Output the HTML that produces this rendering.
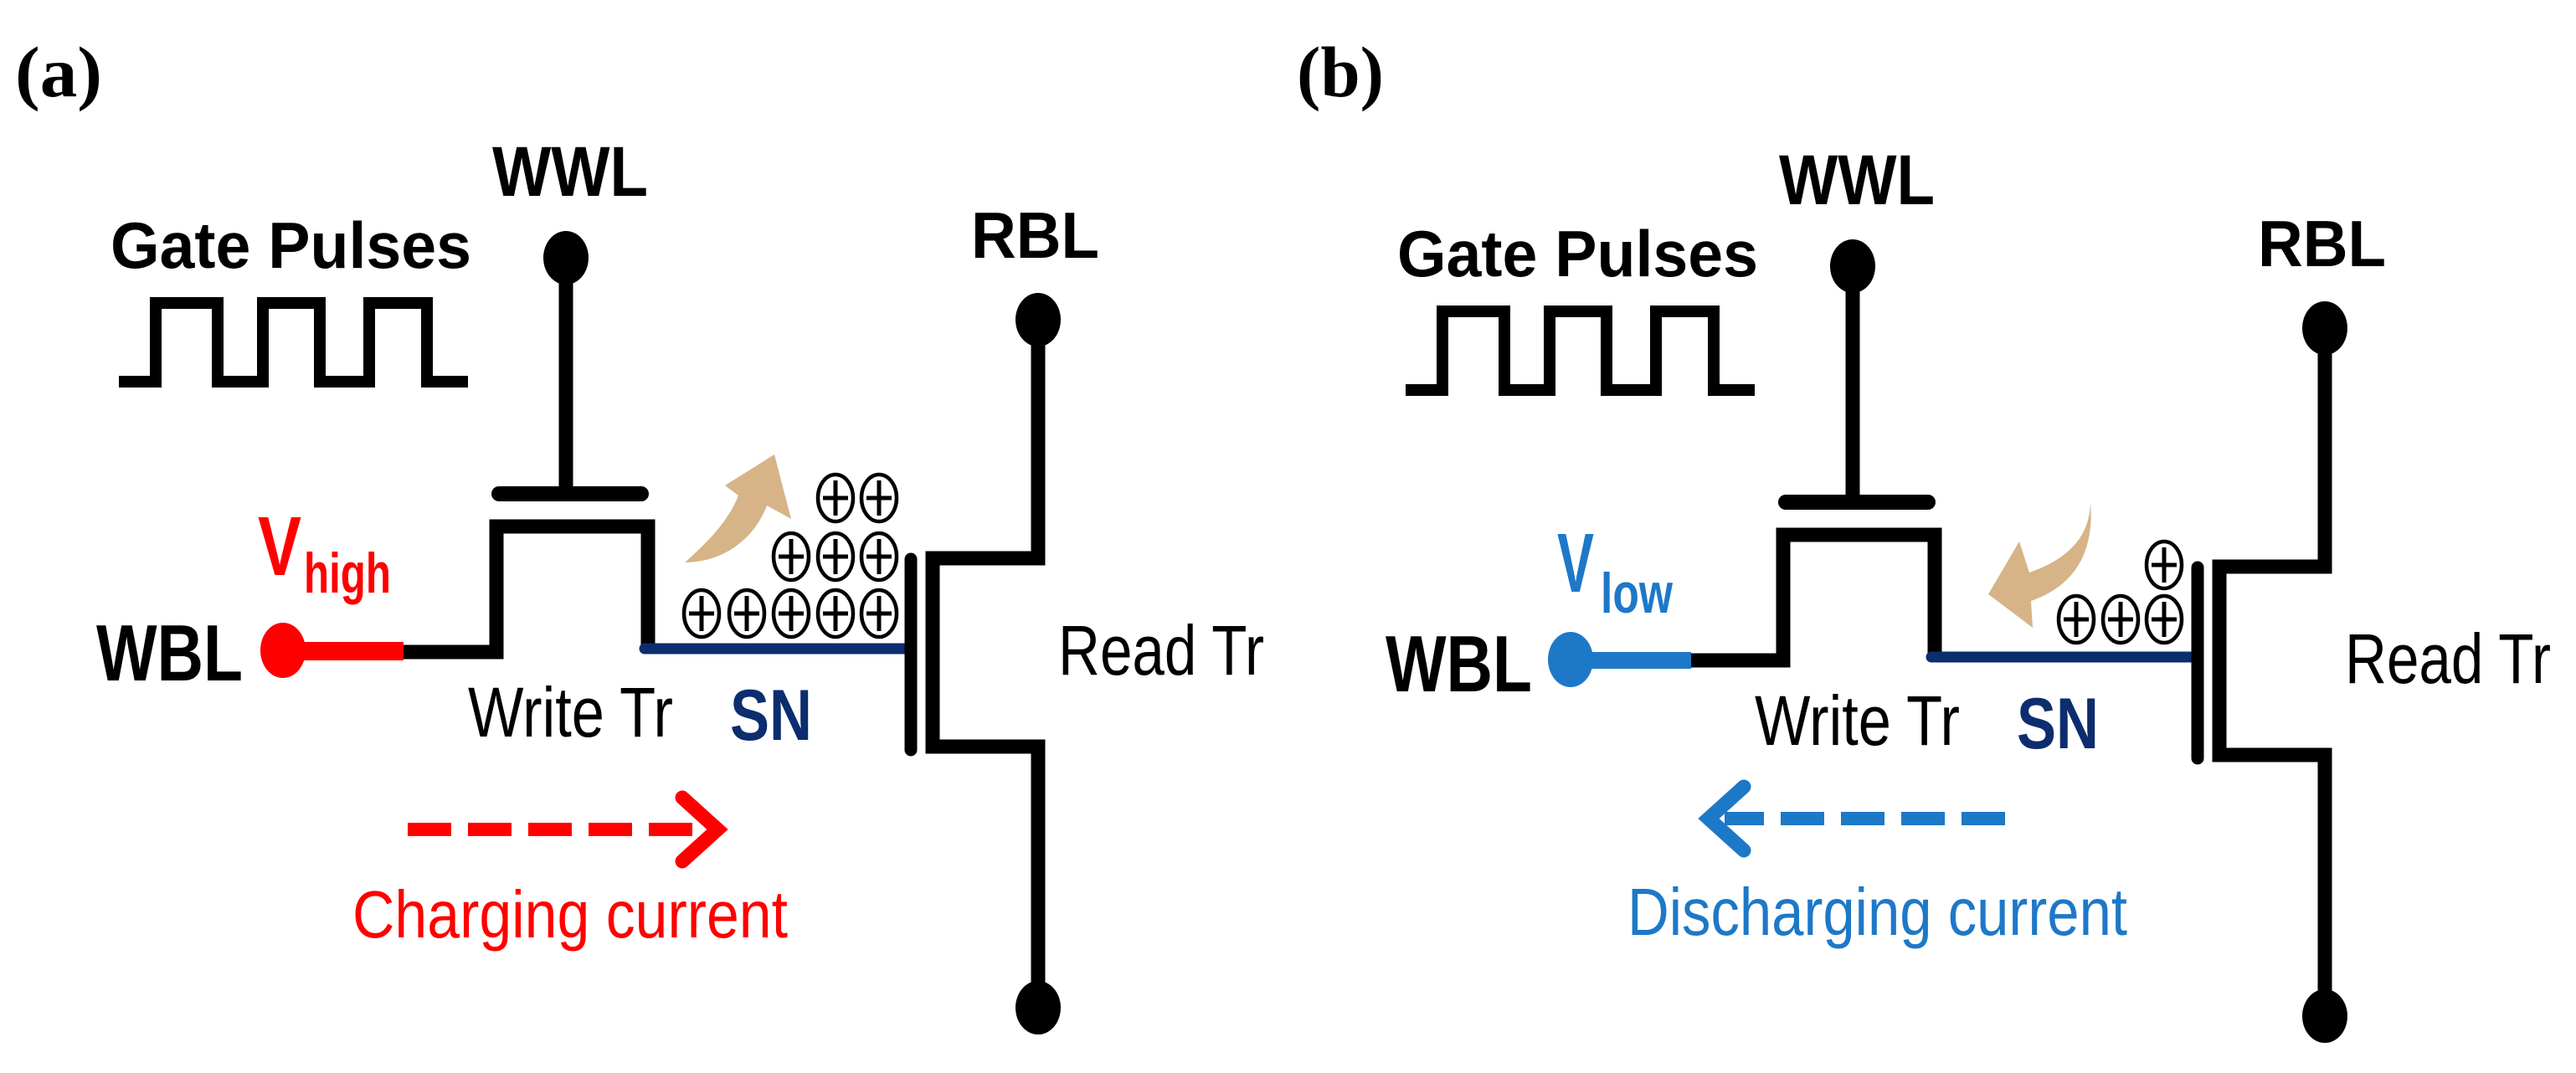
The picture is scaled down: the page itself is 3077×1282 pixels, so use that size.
<!DOCTYPE html>
<html><head><meta charset="utf-8"><style>html,body{margin:0;padding:0;background:#fff}svg{display:block}</style></head>
<body>
<svg width="3077" height="1282" viewBox="0 0 3077 1282" xmlns="http://www.w3.org/2000/svg" font-family="Liberation Sans, Arial, sans-serif">
<defs>
<g id="plus">
<ellipse cx="0" cy="0" rx="21" ry="28" fill="#fff" stroke="#000" stroke-width="4.5"/>
<line x1="-15" y1="0" x2="15" y2="0" stroke="#000" stroke-width="5"/>
<line x1="0" y1="-21" x2="0" y2="21" stroke="#000" stroke-width="5"/>
</g>
<g id="base">
<!-- gate pulses -->
<polyline points="142,456 186,456 186,362 260,362 260,456 314,456 314,362 382,362 382,456 441,456 441,362 510,362 510,456 559,456" fill="none" stroke="#000" stroke-width="14"/>
<!-- WWL -->
<line x1="676" y1="308" x2="676" y2="590" stroke="#000" stroke-width="17"/>
<ellipse cx="676" cy="308" rx="27" ry="32" fill="#000"/>
<line x1="596" y1="590" x2="766" y2="590" stroke="#000" stroke-width="18" stroke-linecap="round"/>
<!-- write tr channel -->
<polyline points="480,779 593,779 593,629 774,629 774,775" fill="none" stroke="#000" stroke-width="17" stroke-linejoin="miter"/>
<!-- SN line -->
<line x1="770" y1="775" x2="1085" y2="775" stroke="#0c2d6e" stroke-width="13" stroke-linecap="round"/>
<!-- read tr -->
<line x1="1088" y1="668" x2="1088" y2="896" stroke="#000" stroke-width="15" stroke-linecap="round"/>
<polyline points="1240,382 1240,667 1114,667 1114,892 1240,892 1240,1204" fill="none" stroke="#000" stroke-width="17"/>
<ellipse cx="1240" cy="382" rx="27" ry="32" fill="#000"/>
<ellipse cx="1240" cy="1204" rx="27" ry="32" fill="#000"/>
<!-- labels -->
<text x="588" y="234" font-size="84" font-weight="bold" textLength="186" lengthAdjust="spacingAndGlyphs">WWL</text>
<text x="132" y="320" font-size="78" font-weight="bold" textLength="431" lengthAdjust="spacingAndGlyphs">Gate Pulses</text>
<text x="1160" y="308" font-size="78" font-weight="bold" textLength="153" lengthAdjust="spacingAndGlyphs">RBL</text>
<text x="1264" y="806" font-size="84" textLength="246" lengthAdjust="spacingAndGlyphs">Read Tr</text>
<text x="559" y="880" font-size="84" textLength="245" lengthAdjust="spacingAndGlyphs">Write Tr</text>
<text x="872" y="884" font-size="86" font-weight="bold" fill="#0c2d6e" textLength="98" lengthAdjust="spacingAndGlyphs">SN</text>
</g>
</defs>

<!-- Panel (a) -->
<text x="18" y="115" font-family="Liberation Serif, serif" font-size="86" font-weight="bold" textLength="104" lengthAdjust="spacingAndGlyphs">(a)</text>
<use href="#base"/>
<line x1="338" y1="778" x2="482" y2="778" stroke="#ff0000" stroke-width="22"/>
<ellipse cx="338" cy="777" rx="27" ry="33" fill="#ff0000"/>
<text x="115" y="813" font-size="96" font-weight="bold" textLength="175" lengthAdjust="spacingAndGlyphs">WBL</text>
<text x="308" y="687" font-size="100" font-weight="bold" fill="#ff0000" textLength="52" lengthAdjust="spacingAndGlyphs">V</text>
<text x="363" y="708" font-size="68" font-weight="bold" fill="#ff0000" textLength="104" lengthAdjust="spacingAndGlyphs">high</text>
<path d="M818,672 C852,642 872,618 882,592 L866,580 L925,543 L945,620 L916,604 C900,646 862,672 818,672 Z" fill="#d6b487"/>
<use href="#plus" x="838" y="733"/><use href="#plus" x="892" y="733"/><use href="#plus" x="945" y="733"/><use href="#plus" x="998" y="733"/><use href="#plus" x="1050" y="733"/>
<use href="#plus" x="945" y="665"/><use href="#plus" x="998" y="665"/><use href="#plus" x="1050" y="665"/>
<use href="#plus" x="998" y="595"/><use href="#plus" x="1050" y="595"/>
<line x1="487" y1="991" x2="845" y2="991" stroke="#ff0000" stroke-width="16" stroke-dasharray="52 20"/>
<polyline points="815,953 857,991 815,1029" fill="none" stroke="#ff0000" stroke-width="17" stroke-linecap="round" stroke-linejoin="miter"/>
<text x="421" y="1120" font-size="80" fill="#ff0000" textLength="520" lengthAdjust="spacingAndGlyphs">Charging current</text>

<!-- Panel (b) -->
<text x="1549" y="115" font-family="Liberation Serif, serif" font-size="86" font-weight="bold" textLength="104" lengthAdjust="spacingAndGlyphs">(b)</text>
<use href="#base" x="1537" y="10"/>
<line x1="1878" y1="789" x2="2020" y2="789" stroke="#1e78c8" stroke-width="20"/>
<ellipse cx="1876" cy="788" rx="27" ry="33" fill="#1e78c8"/>
<text x="1655" y="826" font-size="96" font-weight="bold" textLength="175" lengthAdjust="spacingAndGlyphs">WBL</text>
<text x="1860" y="707" font-size="100" font-weight="bold" fill="#1e78c8" textLength="44" lengthAdjust="spacingAndGlyphs">V</text>
<text x="1912" y="732" font-size="68" font-weight="bold" fill="#1e78c8" textLength="86" lengthAdjust="spacingAndGlyphs">low</text>
<path d="M2497,600 C2496,642 2470,668 2424,684 L2412,647 L2375,710 L2428,750 L2426,718 C2478,700 2502,660 2497,600 Z" fill="#d6b487"/>
<use href="#plus" x="2480" y="740"/><use href="#plus" x="2533" y="740"/><use href="#plus" x="2585" y="740"/>
<use href="#plus" x="2585" y="675"/>
<line x1="2395" y1="978" x2="2060" y2="978" stroke="#1e78c8" stroke-width="16" stroke-dasharray="52 20"/>
<polyline points="2083,940 2041,978 2083,1016" fill="none" stroke="#1e78c8" stroke-width="17" stroke-linecap="round"/>
<text x="1944" y="1117" font-size="80" fill="#1e78c8" textLength="597" lengthAdjust="spacingAndGlyphs">Discharging current</text>
</svg>
</body></html>
